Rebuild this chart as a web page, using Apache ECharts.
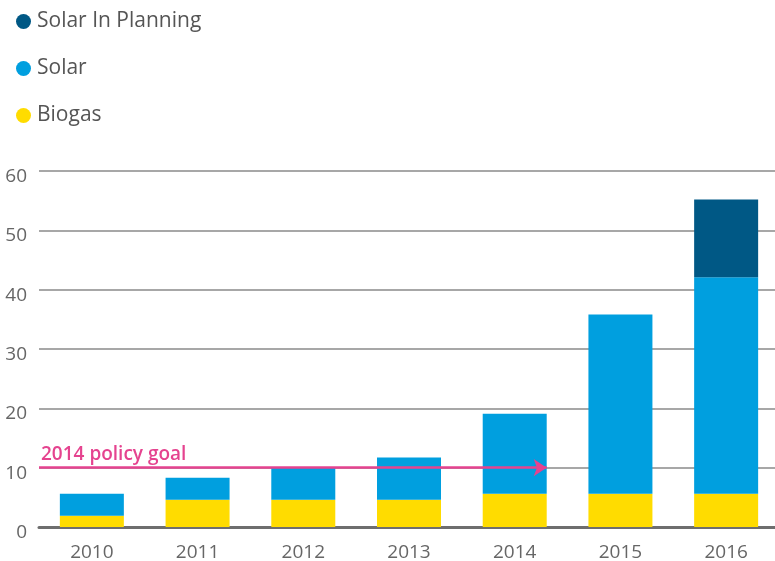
<!DOCTYPE html>
<html>
<head>
<meta charset="utf-8">
<script src="https://cdn.jsdelivr.net/npm/echarts@6/dist/echarts.min.js"></script>
<style>html,body{margin:0;padding:0;background:#fff}#c{width:775px;height:561px}</style>
</head>
<body>
<div id="c"></div>
<script>
var categories = ['2010','2011','2012','2013','2014','2015','2016'];
var biogas = [1.9, 4.6, 4.6, 4.6, 5.6, 5.6, 5.6];
var solar = [3.7, 3.7, 5.5, 7.1, 13.5, 30.2, 36.5];
var solarPlanning = [0, 0, 0, 0, 0, 0, 13.1];
var yTicks = [0, 10, 20, 30, 40, 50, 60];
var goalValue = 10;
var goalLabel = '2014 policy goal';
var goalEndCategory = '2014';
var seriesNames = ['Solar In Planning', 'Solar', 'Biogas'];

var FONT = '"Open Sans", sans-serif';
var chart = echarts.init(document.getElementById('c'), null, {renderer: 'canvas'});
var endIdx = categories.indexOf(goalEndCategory);
var barFrac = 64 / 105.7;

chart.setOption({
  animation: false,
  textStyle: {fontFamily: FONT},
  legend: {
    orient: 'vertical', left: 11, top: 6,
    data: seriesNames,
    icon: 'circle', itemWidth: 15, itemHeight: 15, itemGap: 26,
    textStyle: {fontSize: 21, color: '#555', fontFamily: FONT, lineHeight: 21, padding: [0, 0, 0, 1]},
    selectedMode: false
  },
  grid: {left: 39, top: 171, width: 740, bottom: 34, containLabel: false, outerBoundsMode: 'none'},
  xAxis: [{
    type: 'category', data: categories,
    axisLine: {show: true, lineStyle: {color: '#6e6e6e', width: 3}},
    axisTick: {show: false},
    axisLabel: {fontSize: 19, color: '#666', margin: 16, fontFamily: FONT}
  }, {
    type: 'value', min: -0.5, max: categories.length - 0.5, show: false
  }],
  yAxis: {
    type: 'value', min: yTicks[0], max: yTicks[yTicks.length - 1], interval: 10,
    axisLine: {show: false}, axisTick: {show: false},
    axisLabel: {fontSize: 19, color: '#666', margin: 12, verticalAlign: 'top', lineHeight: 11, fontFamily: FONT},
    splitLine: {lineStyle: {color: '#8a8a8a', width: 1.5}}
  },
  series: [{
    name: 'Biogas', type: 'bar', stack: 'a', data: biogas, barWidth: 64,
    itemStyle: {color: '#ffdc00'}
  }, {
    name: 'Solar', type: 'bar', stack: 'a', data: solar, barWidth: 64,
    itemStyle: {color: '#009fdf'}
  }, {
    name: 'Solar In Planning', type: 'bar', stack: 'a', data: solarPlanning, barWidth: 64,
    itemStyle: {color: '#005885'}
  }, {
    name: 'goal', type: 'line', xAxisIndex: 1, z: 10,
    data: [[-0.5, goalValue], [endIdx + barFrac / 2, goalValue]],
    symbol: 'none', lineStyle: {opacity: 0}, silent: true,
    markLine: {
      silent: true, animation: false, z: 10,
      symbol: ['none', 'arrow'], symbolSize: 13,
      lineStyle: {color: '#e5438f', width: 2.5, type: 'solid'},
      label: {show: true, position: 'insideStartTop', formatter: goalLabel,
        color: '#e5438f', fontSize: 19, fontWeight: 600, fontFamily: FONT, distance: [2, 4]},
      data: [[{coord: [-0.5, goalValue]}, {coord: [endIdx + barFrac / 2, goalValue]}]]
    }
  }]
});
</script>
</body>
</html>
